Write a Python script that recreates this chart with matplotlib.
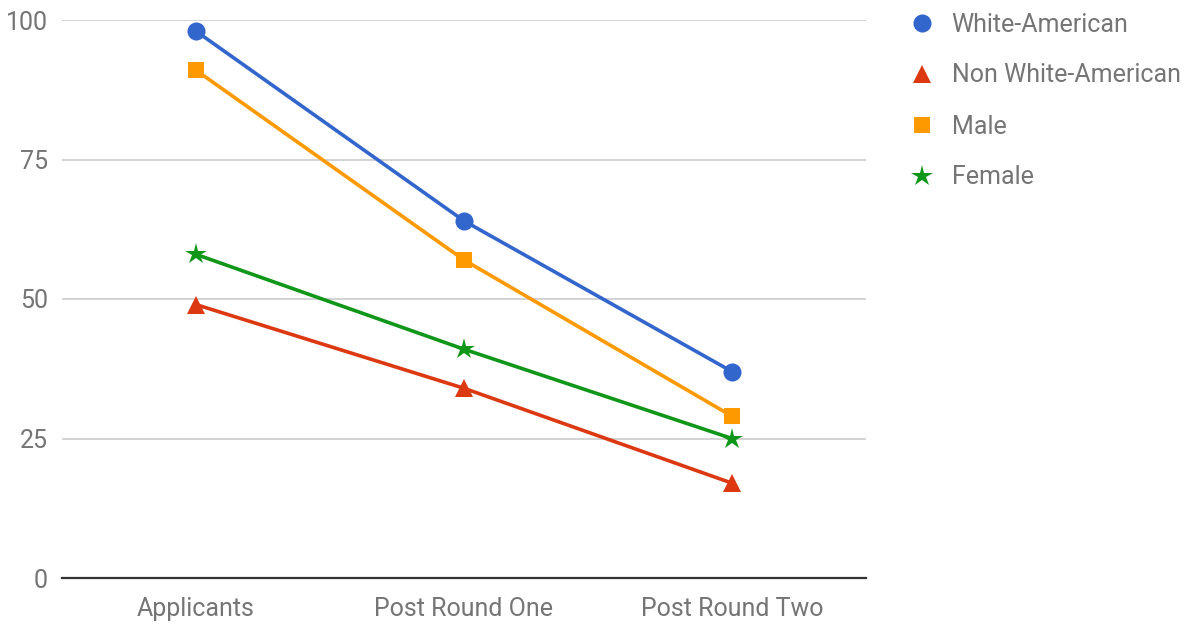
import matplotlib
matplotlib.use('Agg')
import matplotlib.pyplot as plt

plt.rcParams['font.family'] = ['Roboto', 'DejaVu Sans']

categories = ["Applicants", "Post Round One", "Post Round Two"]
white_american = [98, 64, 37]
non_white_american = [49, 34, 17]
male = [91, 57, 29]
female = [58, 41, 25]

series = [
    ("White-American", white_american, '#3366cc', 'o', 13),
    ("Non White-American", non_white_american, '#dc3912', '^', 13),
    ("Male", male, '#ff9900', 's', 12),
    ("Female", female, '#109618', '*', 16),
]

fig = plt.figure(figsize=(11.9, 6.25), dpi=100)
ax = fig.add_axes([0.0521, 0.0752, 0.6756, 0.8928])

x = range(len(categories))
for name, vals, color, marker, ms in series:
    ax.plot(x, vals, color=color, linewidth=2.6, marker=marker, markersize=ms,
            markeredgewidth=0, label=name)

ax.set_xlim(-0.5, 2.5)
ax.set_ylim(0, 100)
ax.set_yticks([0, 25, 50, 75, 100])
ax.set_xticks(list(x))
ax.set_xticklabels(categories)
ax.grid(axis='y', color='#cccccc', linewidth=1.2)
ax.set_axisbelow(True)
for s in ['top', 'right', 'left']:
    ax.spines[s].set_visible(False)
ax.spines['bottom'].set_color('#333333')
ax.spines['bottom'].set_linewidth(1.6)
ax.tick_params(length=0, labelsize=18, colors='#757575')
ax.tick_params(axis='x', pad=14)
ax.tick_params(axis='y', pad=10)

leg = fig.legend(loc='upper left', bbox_to_anchor=(0.745, 1.016), frameon=False,
                 fontsize=18, labelspacing=1.08, handlelength=1.0,
                 handletextpad=0.7, numpoints=1)
for t in leg.get_texts():
    t.set_color('#757575')
for h in leg.legend_handles:
    h.set_linestyle('none')

fig.savefig('out.png', dpi=100, facecolor='white')
